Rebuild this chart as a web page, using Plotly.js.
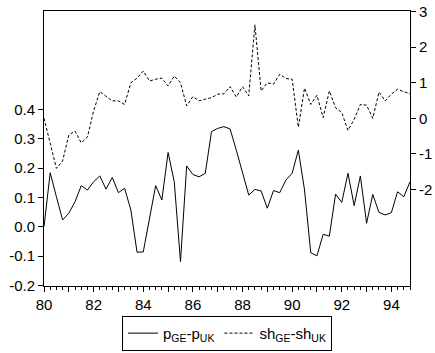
<!DOCTYPE html>
<html>
<head>
<meta charset="utf-8">
<script src="https://cdn.plot.ly/plotly-3.0.1.min.js"></script>
<style>html,body{margin:0;padding:0;background:#fff;}#chart{width:435px;height:353px;}</style>
</head>
<body>
<div id="chart"></div>
<script>
// Quarterly observations 1980Q1 .. 1994Q4
const startYear = 80;
const priceDiff = [0.000,0.184,0.102,0.023,0.046,0.085,0.140,0.125,0.153,0.173,
                   0.128,0.168,0.116,0.131,0.057,-0.087,-0.086,0.027,0.140,0.091,
                   0.253,0.153,-0.119,0.207,0.178,0.170,0.182,0.324,0.335,0.341,
                   0.333,0.261,0.184,0.108,0.127,0.122,0.063,0.123,0.116,0.159,
                   0.182,0.261,0.125,-0.089,-0.099,-0.026,-0.032,0.111,0.083,0.182,
                   0.072,0.173,0.012,0.110,0.049,0.040,0.048,0.119,0.102,0.153];
const shareDiff = [0.00,-0.73,-1.41,-1.20,-0.47,-0.36,-0.69,-0.53,0.21,0.75,
                   0.63,0.49,0.49,0.39,1.00,1.13,1.33,1.05,1.10,1.13,
                   0.91,1.19,1.00,0.35,0.61,0.49,0.54,0.58,0.68,0.69,
                   0.89,0.60,0.89,0.63,2.63,0.77,1.00,0.96,1.24,1.12,
                   1.10,-0.25,0.85,0.39,0.65,0.02,0.77,0.30,0.16,-0.34,
                   -0.03,0.39,0.37,0.00,0.74,0.49,0.68,0.82,0.75,0.69];
const xLabelVals = [80,82,84,86,88,90,92,94];
const xLabelText = ['80','82','84','86','88','90','92','94'];
const xOddYears = [81,83,85,87,89,91,93];
const yTickVals = [-0.2,-0.1,0.0,0.1,0.2,0.3,0.4];
const yTickText = ['-0.2','-0.1','0.0','0.1','0.2','0.3','0.4'];
const y2TickVals = [-2,-1,0,1,2,3];
const y2TickText = ['-2','-1','0','1','2','3'];

const t = priceDiff.map((_, i) => startYear + i * 0.25);

const traces = [
  {x: t, y: priceDiff, type: 'scatter', mode: 'lines', name: 'p<sub>GE</sub>-p<sub>UK</sub>',
   line: {color: '#000', width: 1}, xaxis: 'x', yaxis: 'y'},
  {x: t, y: shareDiff, type: 'scatter', mode: 'lines', name: 'sh<sub>GE</sub>-sh<sub>UK</sub>',
   line: {color: '#000', width: 1, dash: '3px,2px'}, xaxis: 'x2', yaxis: 'y2'}
];

const layout = {
  width: 435, height: 353,
  margin: {l: 44, r: 25, t: 11, b: 67, autoexpand: false},
  paper_bgcolor: '#fff', plot_bgcolor: '#fff',
  font: {family: 'Liberation Sans, Arial, sans-serif', size: 15, color: '#000'},
  showlegend: true,
  legend: {orientation: 'h', x: 0.5, xanchor: 'center', xref: 'paper',
           y: 0.006, yanchor: 'bottom', yref: 'container',
           bordercolor: '#000', borderwidth: 1, font: {size: 15},
           tracegroupgap: 0},
  xaxis: {range: [80, 94.75], tickvals: xLabelVals, ticktext: xLabelText,
          ticks: 'outside', ticklen: 5, tickcolor: '#000', tickwidth: 1,
          minor: {dtick: 0.25, tick0: 80, ticks: 'outside', ticklen: 3, tickcolor: '#000', tickwidth: 1, showgrid: false},
          showline: true, linecolor: '#000', linewidth: 1, mirror: true,
          showgrid: false, zeroline: false, tickfont: {size: 15}},
  xaxis2: {range: [80, 94.75], overlaying: 'x', anchor: 'y', side: 'bottom',
           tickvals: xOddYears, showticklabels: false,
           ticks: 'outside', ticklen: 5, tickcolor: '#000', tickwidth: 1,
           showline: false, showgrid: false, zeroline: false},
  yaxis: {range: [-0.202, 0.735], tickvals: yTickVals, ticktext: yTickText,
          ticks: 'outside', ticklen: 5, tickcolor: '#000',
          showline: true, linecolor: '#000', linewidth: 1,
          showgrid: false, zeroline: false, tickfont: {size: 15}},
  yaxis2: {range: [-4.72, 3.02], tickvals: y2TickVals, ticktext: y2TickText,
           overlaying: 'y', side: 'right', anchor: 'x',
           ticks: 'outside', ticklen: 5, tickcolor: '#000',
           showline: true, linecolor: '#000', linewidth: 1,
           showgrid: false, zeroline: false, tickfont: {size: 15}}
};

Plotly.newPlot('chart', traces, layout, {displayModeBar: false, staticPlot: true});
</script>
</body>
</html>
